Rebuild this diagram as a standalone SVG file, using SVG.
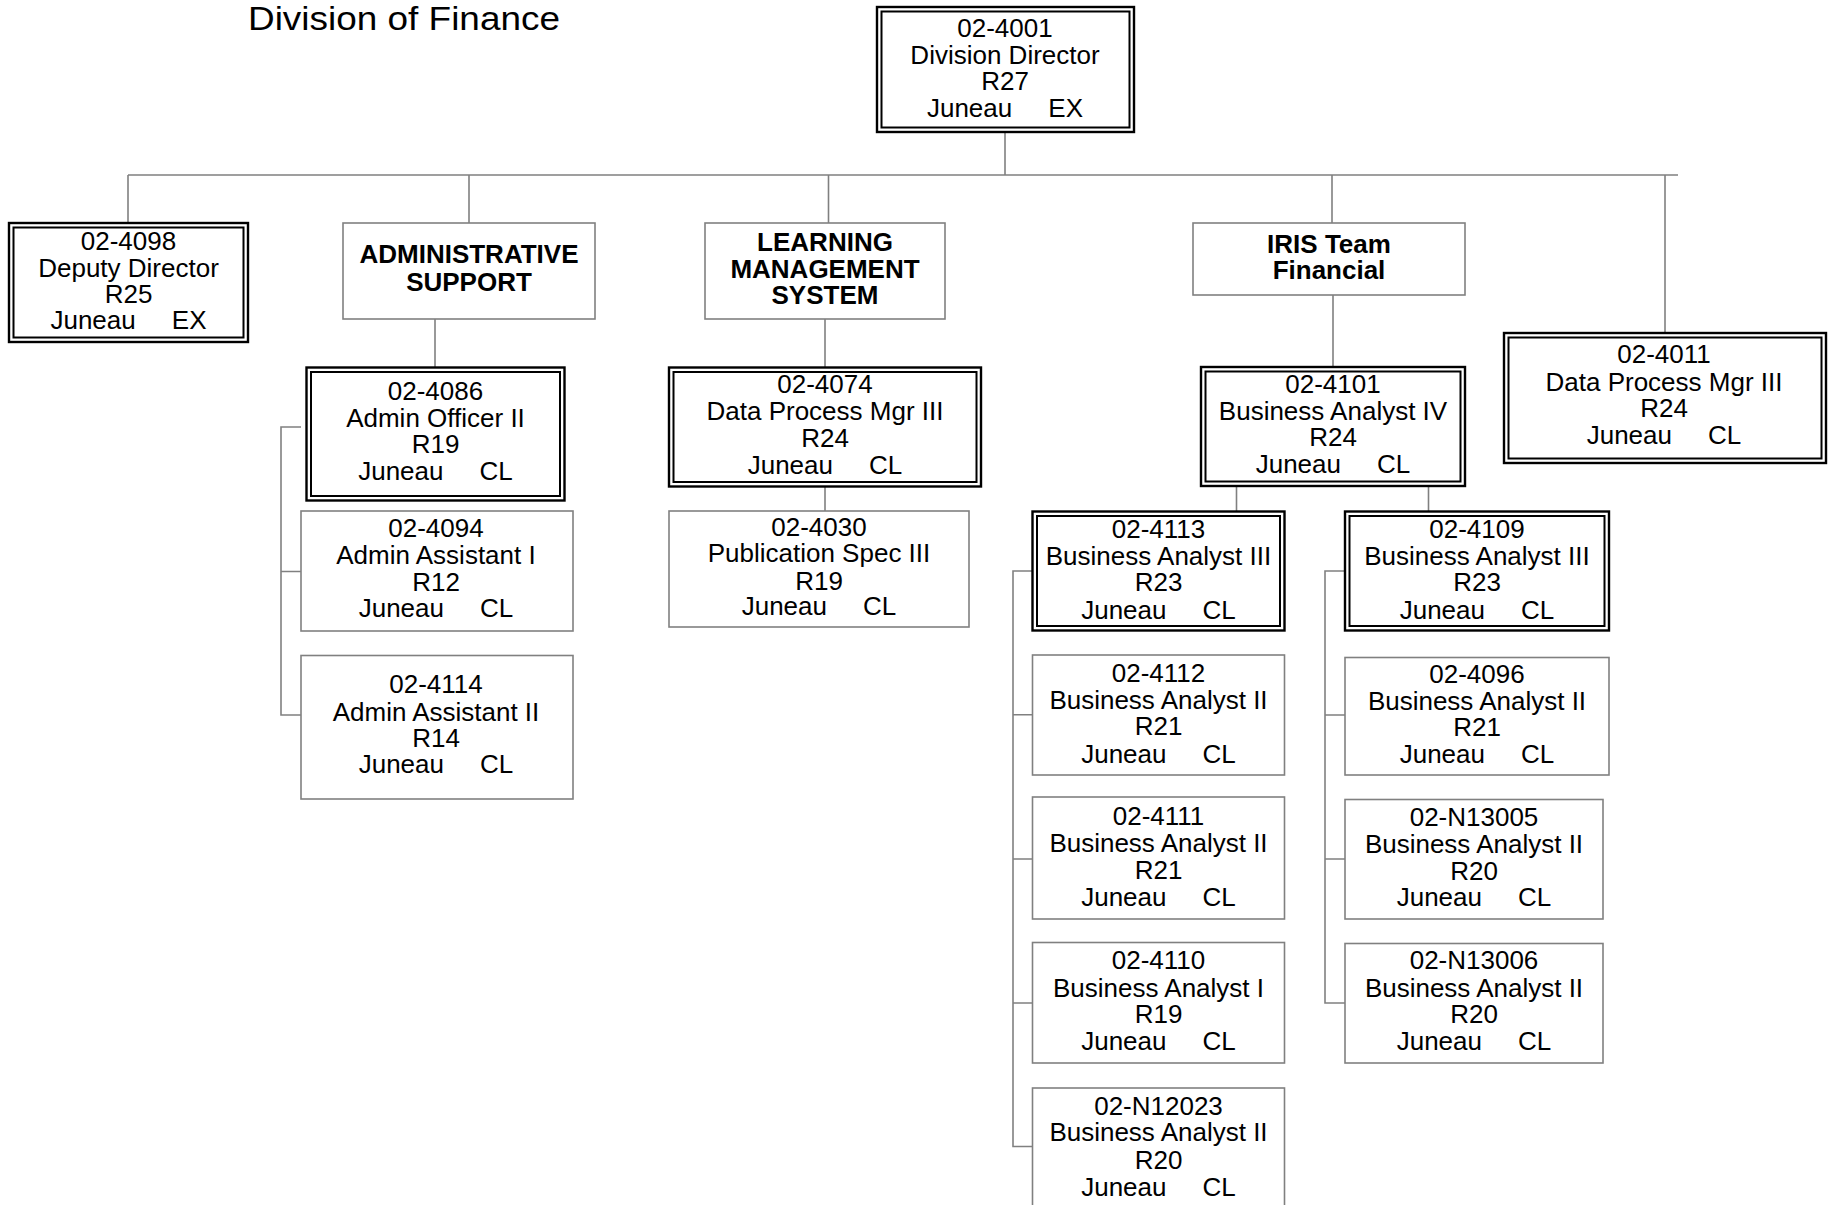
<svg xmlns="http://www.w3.org/2000/svg" width="1828" height="1205" viewBox="0 0 1828 1205">
<style>
.box{fill:#fff;stroke:#808080;stroke-width:1.6}
.dbo{fill:#fff;stroke:#000;stroke-width:2.4}
.dbi{fill:none;stroke:#000;stroke-width:2}
.t{font-family:"Liberation Sans",Arial,sans-serif;font-size:26px;text-anchor:middle;fill:#000;white-space:pre}
.b{font-weight:bold}
.con{stroke:#808080;stroke-width:1.6;fill:none}
</style>
<rect width="1828" height="1205" fill="#fff"/>
<text x="248" y="29.5" font-family="Liberation Sans, Arial, sans-serif" font-size="34" textLength="312" lengthAdjust="spacingAndGlyphs" fill="#000">Division of Finance</text>

<g id="connectors">
<path class="con" d="M1005 133V175M128 175H1678M128 175V223M469 175V223M828.5 175V223M1332 175V223M1665 175V333"/>
<path class="con" d="M435 319V367M825 319V367M825 487V511M1333 295V367M1236.5 486V511M1428.5 486V511"/>
<path class="con" d="M301 427H281V715H301M281 571.5H301"/>
<path class="con" d="M1032 571H1013V1146.5H1032M1013 714.7H1032M1013 859H1032M1013 1003H1032"/>
<path class="con" d="M1345 571H1325V1003H1345M1325 715H1345M1325 859H1345"/>
</g>

<g id="n4001">
<rect class="dbo" x="877" y="7" width="257" height="125"/>
<rect class="dbi" x="881.5" y="11.5" width="248" height="116"/>
<text class="t"><tspan x="1005" y="36.7">02-4001</tspan><tspan x="1005" y="63.5">Division Director</tspan><tspan x="1005" y="90">R27</tspan><tspan x="1005" y="116.7">Juneau     EX</tspan></text>
</g>

<g id="n4098">
<rect class="dbo" x="9" y="223" width="239" height="119"/>
<rect class="dbi" x="13.5" y="227.5" width="230" height="110"/>
<text class="t"><tspan x="128.5" y="250">02-4098</tspan><tspan x="128.5" y="276.5">Deputy Director</tspan><tspan x="128.5" y="303">R25</tspan><tspan x="128.5" y="329">Juneau     EX</tspan></text>
</g>

<g id="admin-support">
<rect class="box" x="343" y="223" width="252" height="96"/>
<text class="t b"><tspan x="469" y="263">ADMINISTRATIVE</tspan><tspan x="469" y="291">SUPPORT</tspan></text>
</g>

<g id="lms">
<rect class="box" x="705" y="223" width="240" height="96"/>
<text class="t b"><tspan x="825" y="250.5">LEARNING</tspan><tspan x="825" y="277.5">MANAGEMENT</tspan><tspan x="825" y="303.5">SYSTEM</tspan></text>
</g>

<g id="iris">
<rect class="box" x="1193" y="223" width="272" height="72"/>
<text class="t b"><tspan x="1329" y="253">IRIS Team</tspan><tspan x="1329" y="278.5">Financial</tspan></text>
</g>

<g id="n4011">
<rect class="dbo" x="1504" y="333" width="322" height="130"/>
<rect class="dbi" x="1508.5" y="337.5" width="313" height="121"/>
<text class="t"><tspan x="1664" y="363">02-4011</tspan><tspan x="1664" y="390.5">Data Process Mgr III</tspan><tspan x="1664" y="417">R24</tspan><tspan x="1664" y="444">Juneau     CL</tspan></text>
</g>

<g id="n4086">
<rect class="dbo" x="306.5" y="367.5" width="258" height="133"/>
<rect class="dbi" x="311" y="372" width="249" height="124"/>
<text class="t"><tspan x="435.5" y="399.7">02-4086</tspan><tspan x="435.5" y="426.6">Admin Officer II</tspan><tspan x="435.5" y="453">R19</tspan><tspan x="435.5" y="480">Juneau     CL</tspan></text>
</g>

<g id="n4094">
<rect class="box" x="301" y="511" width="272" height="120"/>
<text class="t"><tspan x="436" y="537">02-4094</tspan><tspan x="436" y="563.5">Admin Assistant I</tspan><tspan x="436" y="590.5">R12</tspan><tspan x="436" y="617">Juneau     CL</tspan></text>
</g>

<g id="n4114">
<rect class="box" x="301" y="655.5" width="272" height="143.5"/>
<text class="t"><tspan x="436" y="693">02-4114</tspan><tspan x="436" y="720.5">Admin Assistant II</tspan><tspan x="436" y="746.5">R14</tspan><tspan x="436" y="773">Juneau     CL</tspan></text>
</g>

<g id="n4074">
<rect class="dbo" x="669" y="367.5" width="312" height="119"/>
<rect class="dbi" x="673.5" y="372" width="303" height="110"/>
<text class="t"><tspan x="825" y="393">02-4074</tspan><tspan x="825" y="420">Data Process Mgr III</tspan><tspan x="825" y="447">R24</tspan><tspan x="825" y="473.6">Juneau     CL</tspan></text>
</g>

<g id="n4030">
<rect class="box" x="669" y="511" width="300" height="116"/>
<text class="t"><tspan x="819" y="536">02-4030</tspan><tspan x="819" y="562">Publication Spec III</tspan><tspan x="819" y="589.5">R19</tspan><tspan x="819" y="615">Juneau     CL</tspan></text>
</g>

<g id="n4101">
<rect class="dbo" x="1201" y="367" width="264" height="119"/>
<rect class="dbi" x="1205.5" y="371.5" width="255" height="110"/>
<text class="t"><tspan x="1333" y="393">02-4101</tspan><tspan x="1333" y="419.5">Business Analyst IV</tspan><tspan x="1333" y="446">R24</tspan><tspan x="1333" y="472.7">Juneau     CL</tspan></text>
</g>

<g id="n4113">
<rect class="dbo" x="1032.5" y="511.5" width="252" height="119"/>
<rect class="dbi" x="1037" y="516" width="243" height="110"/>
<text class="t"><tspan x="1158.5" y="538">02-4113</tspan><tspan x="1158.5" y="565">Business Analyst III</tspan><tspan x="1158.5" y="591">R23</tspan><tspan x="1158.5" y="618.5">Juneau     CL</tspan></text>
</g>

<g id="n4112">
<rect class="box" x="1032.5" y="655" width="252" height="120"/>
<text class="t"><tspan x="1158.5" y="682">02-4112</tspan><tspan x="1158.5" y="709">Business Analyst II</tspan><tspan x="1158.5" y="735">R21</tspan><tspan x="1158.5" y="762.5">Juneau     CL</tspan></text>
</g>

<g id="n4111">
<rect class="box" x="1032.5" y="797" width="252" height="122"/>
<text class="t"><tspan x="1158.5" y="825">02-4111</tspan><tspan x="1158.5" y="852">Business Analyst II</tspan><tspan x="1158.5" y="878.5">R21</tspan><tspan x="1158.5" y="905.5">Juneau     CL</tspan></text>
</g>

<g id="n4110">
<rect class="box" x="1032.5" y="942.5" width="252" height="120.5"/>
<text class="t"><tspan x="1158.5" y="969">02-4110</tspan><tspan x="1158.5" y="996.5">Business Analyst I</tspan><tspan x="1158.5" y="1023">R19</tspan><tspan x="1158.5" y="1050">Juneau     CL</tspan></text>
</g>

<g id="nN12023">
<rect class="box" x="1032.5" y="1088" width="252" height="130"/>
<text class="t"><tspan x="1158.5" y="1114.6">02-N12023</tspan><tspan x="1158.5" y="1141">Business Analyst II</tspan><tspan x="1158.5" y="1168.5">R20</tspan><tspan x="1158.5" y="1195.5">Juneau     CL</tspan></text>
</g>

<g id="n4109">
<rect class="dbo" x="1345" y="511.5" width="264" height="119"/>
<rect class="dbi" x="1349.5" y="516" width="255" height="110"/>
<text class="t"><tspan x="1477" y="538">02-4109</tspan><tspan x="1477" y="565">Business Analyst III</tspan><tspan x="1477" y="591">R23</tspan><tspan x="1477" y="618.5">Juneau     CL</tspan></text>
</g>

<g id="n4096">
<rect class="box" x="1345" y="657.5" width="264" height="117.5"/>
<text class="t"><tspan x="1477" y="683">02-4096</tspan><tspan x="1477" y="709.5">Business Analyst II</tspan><tspan x="1477" y="735.5">R21</tspan><tspan x="1477" y="763">Juneau     CL</tspan></text>
</g>

<g id="nN13005">
<rect class="box" x="1345" y="799.5" width="258" height="119.5"/>
<text class="t"><tspan x="1474" y="826">02-N13005</tspan><tspan x="1474" y="852.5">Business Analyst II</tspan><tspan x="1474" y="879.5">R20</tspan><tspan x="1474" y="906">Juneau     CL</tspan></text>
</g>

<g id="nN13006">
<rect class="box" x="1345" y="943.5" width="258" height="119.5"/>
<text class="t"><tspan x="1474" y="969">02-N13006</tspan><tspan x="1474" y="996.5">Business Analyst II</tspan><tspan x="1474" y="1023">R20</tspan><tspan x="1474" y="1050">Juneau     CL</tspan></text>
</g>
</svg>
